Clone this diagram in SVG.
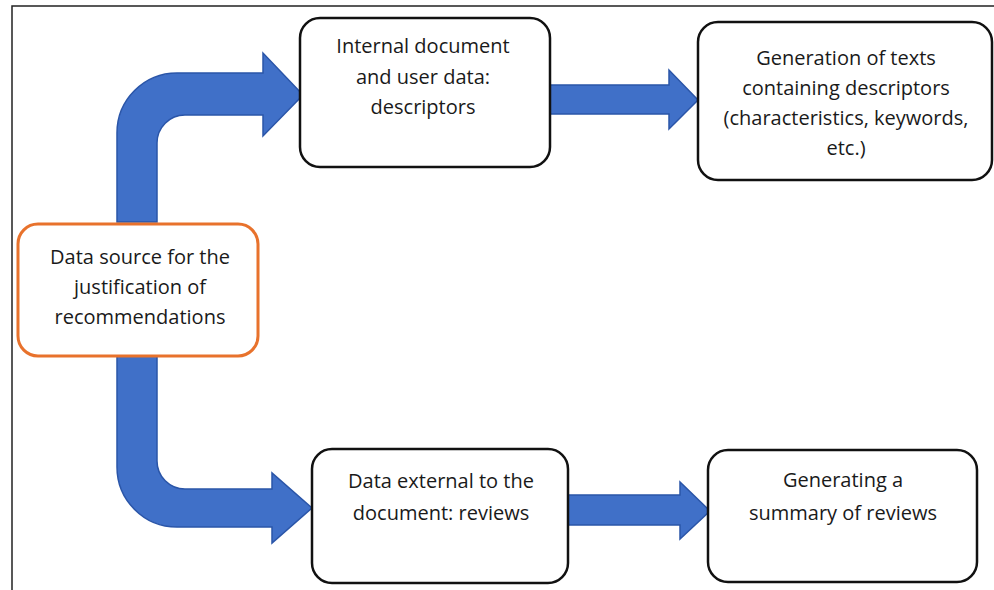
<svg xmlns="http://www.w3.org/2000/svg" width="994" height="590" viewBox="0 0 994 590">
<style>
.box{fill:#ffffff;stroke:#111111;stroke-width:2.5}
.src{fill:#ffffff;stroke:#E8722C;stroke-width:3}
.arr{fill:#4070C8;stroke:#2A55A8;stroke-width:1.5;stroke-linejoin:miter}
text{font-family:"Open Sans","Noto Sans",sans-serif;font-size:20px;fill:#1a1a1a;text-anchor:middle}
</style>
<rect x="0" y="0" width="994" height="590" fill="#ffffff"/>
<path d="M12 590 V6 H994" fill="none" stroke="#222" stroke-width="1.5"/>
<g id="connectors">
<path class="arr" d="M117 222 V133 A60 60 0 0 1 177 73 H263 V53 L303 95 L263 136 V115 H185 A28 28 0 0 0 157 143 V222 Z"/>
<path class="arr" d="M117 356 V467 A60 60 0 0 0 177 527 H272 V543 L312 508 L272 473 V489 H185 A28 28 0 0 1 157 461 V356 Z"/>
<path class="arr" d="M550 85 H669 V70 L698 100 L669 129 V114 H550 Z"/>
<path class="arr" d="M568 495 H680 V482 L710 511 L680 539 V525 H568 Z"/>
</g>
<g id="source">
<rect class="src" x="18" y="224" width="240" height="132" rx="20"/>
<text x="140" y="264">Data source for the</text>
<text x="140" y="294">justification of</text>
<text x="140" y="324">recommendations</text>
</g>
<g id="internal">
<rect class="box" x="300" y="18" width="250" height="149" rx="20"/>
<text x="423" y="53">Internal document</text>
<text x="423" y="84">and user data:</text>
<text x="423" y="114">descriptors</text>
</g>
<g id="generation">
<rect class="box" x="698" y="22" width="294" height="158" rx="20"/>
<text x="846" y="65">Generation of texts</text>
<text x="846" y="95">containing descriptors</text>
<text x="846" y="125">(characteristics, keywords,</text>
<text x="846" y="155">etc.)</text>
</g>
<g id="external">
<rect class="box" x="312" y="449" width="256" height="134" rx="20"/>
<text x="441" y="488">Data external to the</text>
<text x="441" y="520">document: reviews</text>
</g>
<g id="summary">
<rect class="box" x="708" y="450" width="269" height="132" rx="20"/>
<text x="843" y="487">Generating a</text>
<text x="843" y="520">summary of reviews</text>
</g>
</svg>
